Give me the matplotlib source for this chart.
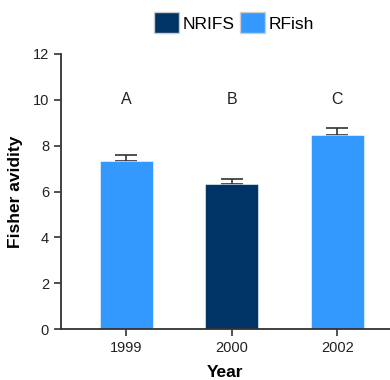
import matplotlib.pyplot as plt
from matplotlib.patches import Patch
import numpy as np

plt.rcParams['font.family'] = ['Liberation Sans', 'DejaVu Sans']

years = ["1999", "2000", "2002"]
avidity = [7.35, 6.32, 8.45]
err_up = [0.25, 0.23, 0.30]
source = ["RFish", "NRIFS", "RFish"]
letters = ["A", "B", "C"]

COLORS = {"NRIFS": "#003366", "RFish": "#3399ff"}
AXC = "#333333"

fig = plt.figure(figsize=(3.9, 3.8), dpi=100)
ax = fig.add_axes([0.156, 0.134, 0.844, 0.724])

x = np.arange(len(years))
cols = [COLORS[s] for s in source]
ax.bar(x, avidity, width=0.5, color=cols, edgecolor="#ffffff", linewidth=0.4, zorder=2)
ax.errorbar(x, avidity, yerr=[np.zeros(len(x)), err_up], fmt="none",
            ecolor=AXC, elinewidth=1.2, capsize=8, capthick=1.2, zorder=1)

for xi, lab in zip(x, letters):
    ax.text(xi, 10, lab, ha="center", va="center", fontsize=11.5, color="#222222")

ax.set_xlim(-0.62, 2.5)
ax.set_ylim(0, 12)
ax.set_yticks(range(0, 13, 2))
ax.set_xticks(x)
ax.set_xticklabels(years)
ax.tick_params(colors=AXC, labelcolor="#222222", labelsize=10.5, width=1.2, length=5)
for s in ["top", "right"]:
    ax.spines[s].set_visible(False)
for s in ["left", "bottom"]:
    ax.spines[s].set_color(AXC)
    ax.spines[s].set_linewidth(1.3)

ax.set_ylabel("Fisher avidity", fontsize=12.5, fontweight="bold", labelpad=7)
ax.set_xlabel("Year", fontsize=12.5, fontweight="bold", labelpad=7)

handles = [Patch(facecolor=COLORS[k], edgecolor="#cccccc", label=k) for k in ["NRIFS", "RFish"]]
fig.legend(handles=handles, loc="center", bbox_to_anchor=(0.6, 0.94), ncol=2, frameon=False,
           fontsize=12.5, handlelength=1.45, handleheight=1.45, handletextpad=0.2,
           columnspacing=0.3)

fig.savefig("out.png", dpi=100)
